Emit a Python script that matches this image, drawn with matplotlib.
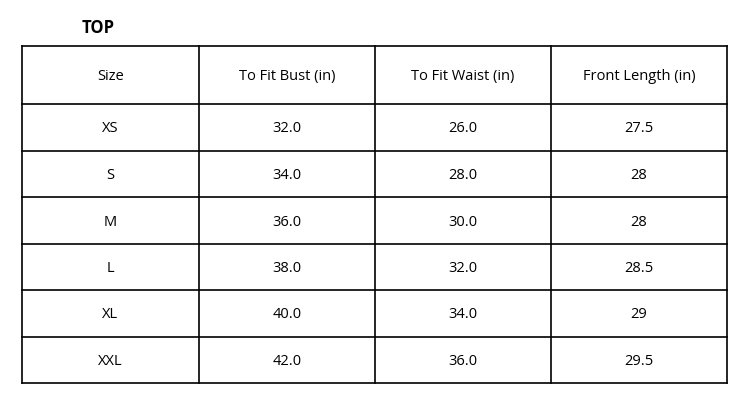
import matplotlib
matplotlib.use("Agg")
import matplotlib.pyplot as plt

title = "TOP"
headers = ["Size", "To Fit Bust (in)", "To Fit Waist (in)", "Front Length (in)"]
sizes = ["XS", "S", "M", "L", "XL", "XXL"]
bust = ["32.0", "34.0", "36.0", "38.0", "40.0", "42.0"]
waist = ["26.0", "28.0", "30.0", "32.0", "34.0", "36.0"]
length = ["27.5", "28", "28", "28.5", "29", "29.5"]

plt.rcParams['font.family'] = ['Open Sans', 'DejaVu Sans']
fig = plt.figure(figsize=(7.51, 4.08), dpi=100)
ax = fig.add_axes([0, 0, 1, 1])
ax.set_xlim(0, 751)
ax.set_ylim(408, 0)
ax.axis('off')

col_edges = [22, 199, 375, 551, 727]
row_edges = [46, 104, 151, 197, 244, 290, 337, 383]

for x in col_edges:
    ax.plot([x, x], [row_edges[0], row_edges[-1]], color='black', lw=1.2)
for y in row_edges:
    ax.plot([col_edges[0], col_edges[-1]], [y, y], color='black', lw=1.2)

ax.text(82, 28, title, fontsize=12, fontweight='bold', ha='left', va='center')

rows = [headers] + [list(r) for r in zip(sizes, bust, waist, length)]
for i, row in enumerate(rows):
    yc = (row_edges[i] + row_edges[i + 1]) / 2 + 1.5
    for j, val in enumerate(row):
        xc = (col_edges[j] + col_edges[j + 1]) / 2
        ax.text(xc, yc, val, fontsize=10.5, ha='center', va='center')

fig.savefig("out.png", dpi=100, facecolor='white')
